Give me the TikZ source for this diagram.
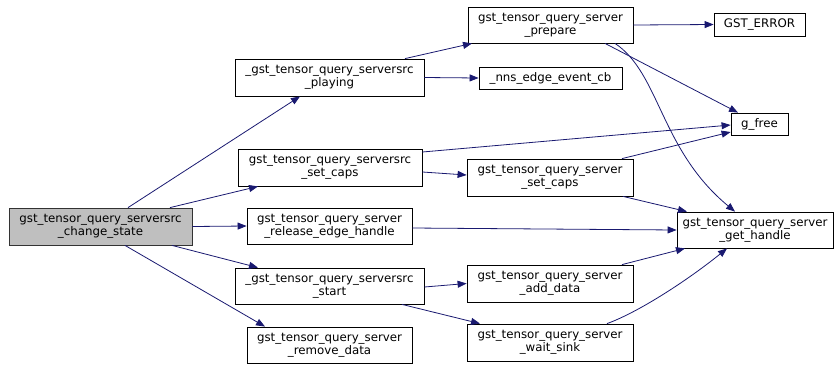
\documentclass[tikz,border=0pt]{standalone}
\usepackage{fontspec}
\setmainfont{DejaVu Sans}
\usetikzlibrary{arrows.meta,calc}
\definecolor{edgec}{HTML}{191970}
\definecolor{grayfill}{HTML}{BFBFBF}
\tikzset{
  fn/.style={draw=black,line width=0.8pt,fill=white,inner sep=0pt,align=center,
    font=\fontsize{11.8}{13.4}\selectfont},
  cur/.style={fn,fill=grayfill,draw=black!80},
  call/.style={draw=edgec,line width=0.8pt,-{Triangle[length=9pt,width=7pt]}},
}
\begin{document}
\begin{tikzpicture}[x=1pt,y=-1pt]
\useasboundingbox (0,0) rectangle (837,365);
\node[cur,minimum width=183pt,minimum height=37pt] (cs) at (100.5,226.5) {gst\_tensor\_query\_serversrc\\\_change\_state};
\node[fn,minimum width=189pt,minimum height=37pt] (play) at (329.5,77.5) {\_gst\_tensor\_query\_serversrc\\\_playing};
\node[fn,minimum width=184pt,minimum height=37pt] (ssc) at (330,167.5) {gst\_tensor\_query\_serversrc\\\_set\_caps};
\node[fn,minimum width=165pt,minimum height=36pt] (rel) at (329.5,226) {gst\_tensor\_query\_server\\\_release\_edge\_handle};
\node[fn,minimum width=189pt,minimum height=36pt] (start) at (329.5,286) {\_gst\_tensor\_query\_serversrc\\\_start};
\node[fn,minimum width=165pt,minimum height=36pt] (rem) at (329.5,345) {gst\_tensor\_query\_server\\\_remove\_data};
\node[fn,minimum width=165pt,minimum height=36pt] (prep) at (550.5,25) {gst\_tensor\_query\_server\\\_prepare};
\node[fn,minimum width=91pt,minimum height=23pt] (err) at (759.5,24.5) {GST\_ERROR};
\node[fn,minimum width=143pt,minimum height=22pt] (nns) at (550.5,78) {\_nns\_edge\_event\_cb};
\node[fn,minimum width=57pt,minimum height=22pt] (gfree) at (759.5,124) {g\_free};
\node[fn,minimum width=166pt,minimum height=37pt] (sc) at (550,177.5) {gst\_tensor\_query\_server\\\_set\_caps};
\node[fn,minimum width=156pt,minimum height=36pt] (gh) at (755,230) {gst\_tensor\_query\_server\\\_get\_handle};
\node[fn,minimum width=166pt,minimum height=37pt] (add) at (550,283.5) {gst\_tensor\_query\_server\\\_add\_data};
\node[fn,minimum width=166pt,minimum height=37pt] (wait) at (550,342.5) {gst\_tensor\_query\_server\\\_wait\_sink};

\draw[call] ([xshift=27.5pt]cs.north) -- ([xshift=-29.5pt]play.south);
\draw[call] ([xshift=69.5pt]cs.north) -- ([xshift=-72pt]ssc.south);
\draw[call] (cs.east) -- (rel.west);
\draw[call] ([xshift=71.5pt]cs.south) -- ([xshift=-71.5pt]start.north);
\draw[call] ([xshift=24.5pt]cs.south) -- ([xshift=-64.5pt]rem.north);

\draw[call] ([xshift=75.5pt]play.north) -- ([xshift=-78.5pt]prep.south);
\draw[call] (play.east) -- (nns.west);

\draw[call] ([yshift=15.5pt]ssc.east) -- ([yshift=-1pt]gfree.west);
\draw[call] ([yshift=-4.5pt]ssc.east) -- ([yshift=2.5pt]sc.west);
\draw[call] ([yshift=-2pt]rel.east) -- (gh.west);
\draw[call] ([yshift=-1pt]start.east) -- (add.west);
\draw[call] ([xshift=72.5pt]start.south) -- ([xshift=-70pt]wait.north);

\draw[call] (prep.east) -- (err.west);
\draw[call] ([xshift=54.5pt]prep.south) -- ([xshift=-21.5pt]gfree.north);
\draw[call] ([xshift=64.5pt]prep.south) .. controls +(45,30) and +(-75,-62) .. ([xshift=-20pt]gh.north);

\draw[call] ([xshift=72pt]sc.north) -- ([yshift=-8pt]gfree.west);
\draw[call] ([xshift=73pt]sc.south) -- ([xshift=-68pt]gh.north);
\draw[call] ([xshift=72pt]add.north) -- ([xshift=-70pt]gh.south);
\draw[call] ([xshift=57pt]wait.north) .. controls +(33,-12) and +(-37,30) .. ([xshift=-28pt]gh.south);
\end{tikzpicture}
\end{document}
